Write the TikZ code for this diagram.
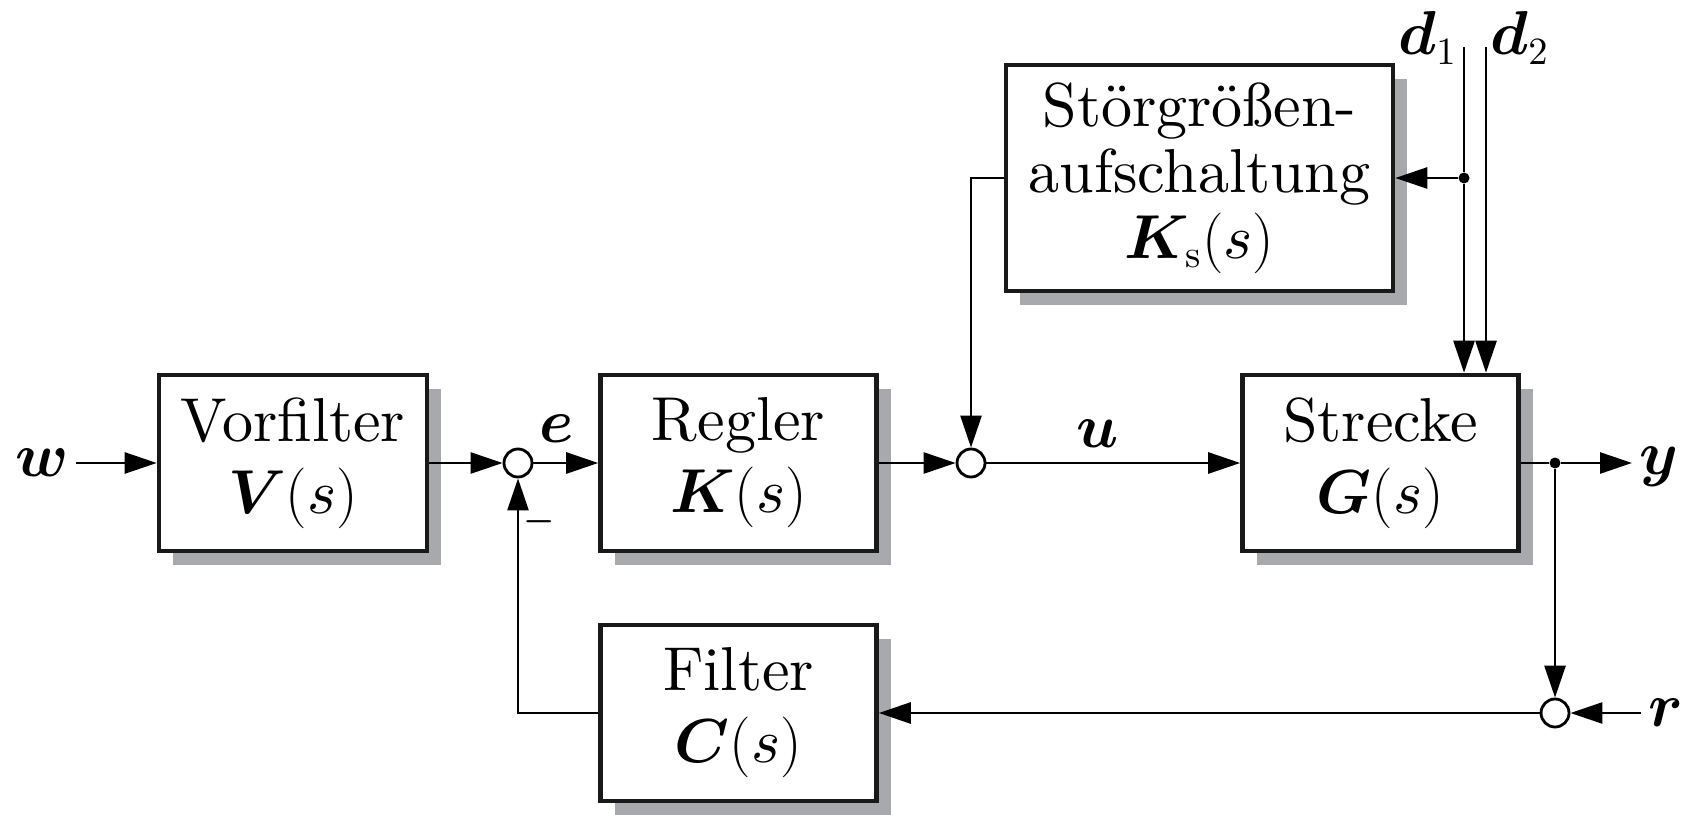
\documentclass[tikz,border=0pt]{standalone}
\usepackage{fontspec}
\setmainfont{lmroman10-regular.otf}[BoldFont=lmroman10-bold.otf, ItalicFont=lmroman10-italic.otf, BoldItalicFont=lmroman10-bolditalic.otf]
\usepackage{amsmath}
\usepackage{bm}
\usepackage{tikz}
\usetikzlibrary{arrows.meta, positioning, shadows}

% math letters from the 10pt designs at every size
\DeclareFontShape{OML}{cmm}{m}{it}{<->cmmi10}{\skewchar\font'177}
\DeclareFontShape{OML}{cmm}{b}{it}{<->cmmib10}{\skewchar\font'177}
\DeclareFontShape{OMS}{cmsy}{m}{n}{<->cmsy10}{\skewchar\font'60}
\DeclareFontShape{OMS}{cmsy}{b}{n}{<->cmbsy10}{\skewchar\font'60}
\DeclareMathSizes{17.65}{17.65}{11}{8.8}

\definecolor{shadowgray}{RGB}{168,169,173}

\begin{document}
\begin{tikzpicture}[
    block/.style={rectangle, draw=black!90, fill=white, line width=1.3pt, minimum width=2.76cm, minimum height=1.76cm, align=center, font=\fontsize{17.65}{20.5}\selectfont, drop shadow={shadow xshift=0.14cm, shadow yshift=-0.14cm, fill=shadowgray, opacity=1}},
    sumpt/.style={circle, draw, fill=white, line width=0.8pt, minimum size=0.28cm, inner sep=0pt},
    branchpt/.style={circle, fill, minimum size=0.11cm, inner sep=0pt},
    signal/.style={font=\fontsize{17.65}{20.5}\selectfont, inner sep=2pt},
    arrow/.style={-{Triangle[length=3.2mm, width=2.1mm]}, line width=0.75pt},
    line/.style={line width=0.75pt}
]
    \useasboundingbox (0,0) rectangle (16.90,8.14);

    % Main loop
    \node[signal] (wlab) at (0.42,3.51) {$\bm{w}$};
    \node[block, minimum width=2.68cm] (vf) at (2.93,3.51) {Vorfilter\\$\bm{V}(s)$};
    \node[sumpt] (s1) at (5.18,3.51) {};
    \node[block] (reg) at (7.385,3.51) {Regler\\$\bm{K}(s)$};
    \node[sumpt] (s2) at (9.71,3.51) {};
    \node[block] (str) at (13.805,3.51) {Strecke\\$\bm{G}(s)$};
    \node[branchpt] (b1) at (15.55,3.51) {};
    \node[signal, anchor=west] (ylab) at (16.32,3.47) {$\bm{y}$};
    \node[signal] (elab) at (5.57,3.85) {$\bm{e}$};
    \node[signal] (ulab) at (10.98,3.80) {$\bm{u}$};
    \node[font=\normalsize, inner sep=0pt] (minus) at (5.39,2.92) {$\bm{-}$};

    % Measurement feedback
    \node[block] (filt) at (7.385,1.01) {Filter\\$\bm{C}(s)$};
    \node[sumpt] (s3) at (15.55,1.01) {};
    \node[signal, anchor=west] (rlab) at (16.41,1.01) {$\bm{r}$};

    % Disturbance feedforward
    \node[block, minimum width=3.87cm, minimum height=2.26cm, font=\fontsize{17.65}{18.8}\selectfont] (stoer) at (11.995,6.36) {Störgrößen-\\aufschaltung\\$\bm{K}_{\mathrm{s}}(s)$};
    \coordinate (d1top) at (14.64,7.67);
    \coordinate (d2top) at (14.86,7.67);
    \node[branchpt] (b2) at (14.64,6.36) {};
    \node[signal] (d1lab) at (14.28,7.76) {$\bm{d}_1$};
    \node[signal] (d2lab) at (15.20,7.76) {$\bm{d}_2$};

    % Signals
    \draw[arrow] (wlab) -- (vf);
    \draw[arrow] (vf) -- (s1);
    \draw[arrow] (s1) -- (reg);
    \draw[arrow] (reg) -- (s2);
    \draw[arrow] (s2) -- (str);
    \draw[line] (str) -- (b1);
    \draw[arrow] (b1) -- (b1 -| ylab.west);
    \draw[arrow] (b1) -- (s3);
    \draw[arrow] (rlab) -- (s3);
    \draw[arrow] (s3) -- (filt);
    \draw[arrow] (filt.west) -| (s1.south);
    \draw[arrow] (stoer.west) -| (s2.north);
    \draw[line] (d1top) -- (b2);
    \draw[arrow] (b2) -- (d1top |- str.north);
    \draw[arrow] (d2top) -- (d2top |- str.north);
    \draw[arrow] (b2) -- (stoer.east);
\end{tikzpicture}
\end{document}
